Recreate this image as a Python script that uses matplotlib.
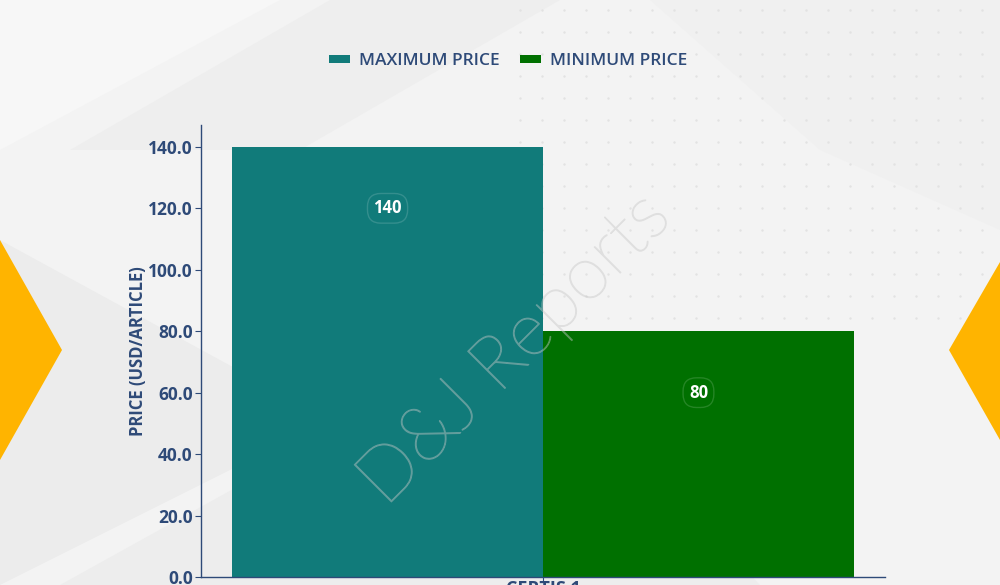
import numpy as np
import matplotlib.pyplot as plt
from matplotlib.patches import Polygon
import matplotlib.patheffects as pe

# data
categories = ["CERTIS 1"]
series_names = ["MAXIMUM PRICE", "MINIMUM PRICE"]
max_price = [140]
min_price = [80]
y_ticks = [0, 20, 40, 60, 80, 100, 120, 140]

teal = "#117B7A"
green = "#007000"
navy = "#2E4A78"
orange = "#FFB400"
bold_font = "Open Sans"

fig = plt.figure(figsize=(10, 5.85), dpi=100)
fig.patch.set_facecolor("#F3F3F3")

# background decoration in figure pixel coords
bg = fig.add_axes([0, 0, 1, 1], zorder=0)
bg.set_xlim(0, 1000)
bg.set_ylim(585, 0)
bg.axis("off")
for pts, c in [
    ([(70, 150), (330, 0), (560, 0), (300, 150)], "#EEEEEE"),
    ([(0, 150), (280, 0), (0, 0)], "#F7F7F7"),
    ([(0, 240), (330, 420), (0, 585)], "#ECECEC"),
    ([(60, 585), (520, 330), (760, 585)], "#EDEDED"),
    ([(650, 0), (1000, 0), (1000, 230), (820, 150)], "#F0F0F0"),
]:
    bg.add_patch(Polygon(pts, closed=True, facecolor=c, edgecolor="none"))
dx, dy = np.meshgrid(np.arange(520, 1000, 22), np.arange(10, 330, 22))
bg.scatter(dx.ravel(), dy.ravel(), s=3, color="#E2E2E2", linewidths=0)
bg.add_patch(Polygon([(0, 240), (62, 350), (0, 460)], closed=True, facecolor=orange, edgecolor="none"))
bg.add_patch(Polygon([(1000, 262), (949, 350), (1000, 440)], closed=True, facecolor=orange, edgecolor="none"))

ax = fig.add_axes([0.201, 0.0137, 0.684, 0.772], zorder=1)
ax.set_facecolor("none")

x = np.arange(len(categories))
w = 0.5
b1 = ax.bar(x - w / 2, max_price, w, color=teal, label=series_names[0], zorder=2)
b2 = ax.bar(x + w / 2, min_price, w, color=green, label=series_names[1], zorder=2)

for bars, vals, fc in [(b1, max_price, teal), (b2, min_price, green)]:
    for rect, v in zip(bars, vals):
        ax.text(rect.get_x() + rect.get_width() / 2, v - 20, f"{v}", ha="center", va="center",
                color="white", fontsize=12, fontweight="bold", family=bold_font, zorder=4,
                bbox=dict(boxstyle="round,pad=0.35,rounding_size=0.8", facecolor=fc,
                          edgecolor=(1, 1, 1, 0.15), linewidth=1))

ax.set_xlim(-0.55, 0.55)
ax.set_ylim(0, 147)
ax.set_yticks(y_ticks)
ax.set_yticklabels([f"{t:.1f}" for t in y_ticks], fontsize=12.5, fontweight="bold",
                   color=navy, family=bold_font)
ax.set_xticks(x)
ax.set_xticklabels(categories, fontsize=13, fontweight="bold", color=navy, family=bold_font)
ax.tick_params(axis="y", length=4, color=navy, pad=2)
ax.tick_params(axis="x", length=3, color=navy, pad=-1)
for s in ["top", "right"]:
    ax.spines[s].set_visible(False)
for s in ["left", "bottom"]:
    ax.spines[s].set_color(navy)
    ax.spines[s].set_linewidth(1)
ax.set_ylabel("PRICE (USD/ARTICLE)", fontsize=12, fontweight="bold", color=navy,
              family=bold_font, labelpad=1)

# watermark
ax.text(-0.045, 74, "D&J Reports", rotation=45, ha="center", va="center", fontsize=54,
        family="Lato", fontweight="light", color="none", zorder=3,
        path_effects=[pe.Stroke(linewidth=0.8, foreground=(0.78, 0.78, 0.78, 0.45))])

leg = fig.legend(loc="center", bbox_to_anchor=(0.508, 0.895), ncol=2, frameon=False,
                 handlelength=1.2, handleheight=0.35, handletextpad=0.5, columnspacing=1.2,
                 prop={"family": "Open Sans", "size": 12.5, "weight": "semibold"})
for t in leg.get_texts():
    t.set_color(navy)

fig.savefig("out.png", dpi=100, facecolor=fig.get_facecolor())
